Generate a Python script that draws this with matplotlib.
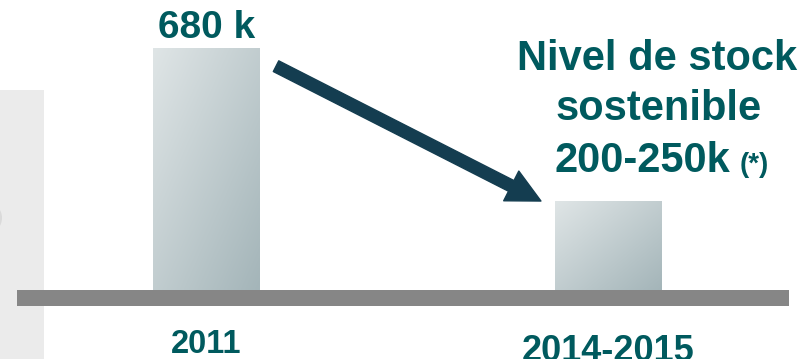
import numpy as np
import matplotlib
matplotlib.use('Agg')
import matplotlib.pyplot as plt
from matplotlib.patches import Rectangle, Ellipse

# data
periods = ['2011', '2014-2015']
stock_k = [680, 250]          # thousand units
value_label = '680 k'
target_lines = ['Nivel de stock', 'sostenible', '200-250k']
target_note = '(*)'

teal = '#005a5e'
navy = '#143d50'

plt.rcParams['font.family'] = ['Liberation Sans', 'DejaVu Sans']
plt.rcParams['font.weight'] = 'bold'

fig = plt.figure(figsize=(8.08, 3.59), dpi=100)
ax = fig.add_axes([0, 0, 1, 1])
ax.set_xlim(-0.5137, 1.4963)
ax.set_ylim(-193.9, 815)
ax.axis('off')

# light gray side panel
ax.add_patch(Rectangle((0, 0), 44 / 808, 0.749, transform=ax.transAxes,
                       facecolor='#ebebeb', edgecolor='none', zorder=0))
ax.add_patch(Ellipse((-12 / 808, 0.393), 28 / 808, 0.085, transform=ax.transAxes,
                     facecolor='#dadada', edgecolor='none', zorder=0.5))

# bars with diagonal gradient
x = np.arange(len(periods))
w = 0.266
bars = ax.bar(x, stock_k, width=w, color='none', zorder=2)
gx, gy = np.meshgrid(np.linspace(0, 1, 100), np.linspace(0, 1, 100))
grad = (gx + gy) / 2
cmap = matplotlib.colors.LinearSegmentedColormap.from_list('g', ['#dfe5e6', '#a4b5b9'])
for b in bars:
    x0, y0 = b.get_x(), b.get_y()
    im = ax.imshow(grad, cmap=cmap, extent=[x0, x0 + b.get_width(), y0, y0 + b.get_height()],
                   origin='upper', aspect='auto', zorder=2, vmin=0, vmax=1)
    im.set_clip_path(b)

# baseline
ax.add_patch(Rectangle((-0.471, -44), 1.92, 44, facecolor='#868686',
                       edgecolor='none', zorder=3))

# arrow
ax.annotate('', xy=(0.832, 250), xytext=(0.173, 629),
            arrowprops=dict(arrowstyle='simple,head_length=1.0,head_width=1.0,tail_width=0.36',
                            mutation_scale=24, color=navy, shrinkA=0, shrinkB=0),
            zorder=4)

# labels
ax.text(x[0], 708, value_label, ha='center', va='baseline', fontsize=28,
        color=teal, fontweight='bold')
ys = [618, 478, 331]
ax.text(1.12, ys[0], target_lines[0], ha='center', va='baseline', fontsize=30,
        color=teal, fontweight='bold')
ax.text(1.125, ys[1], target_lines[1], ha='center', va='baseline', fontsize=30,
        color=teal, fontweight='bold')
ax.text(1.302, ys[2], target_lines[2], ha='right', va='baseline', fontsize=30,
        color=teal, fontweight='bold')
ax.text(1.327, ys[2], target_note, ha='left', va='baseline', fontsize=20,
        color=teal, fontweight='bold')

ax.text(x[0], -178, periods[0], ha='center', va='baseline', fontsize=23.5,
        color=teal, fontweight='bold')
ax.text(x[1], -193.9 - 2 / 0.356, periods[1], ha='center', va='baseline', fontsize=26,
        color=teal, fontweight='bold')

fig.savefig('out.png', dpi=100)
